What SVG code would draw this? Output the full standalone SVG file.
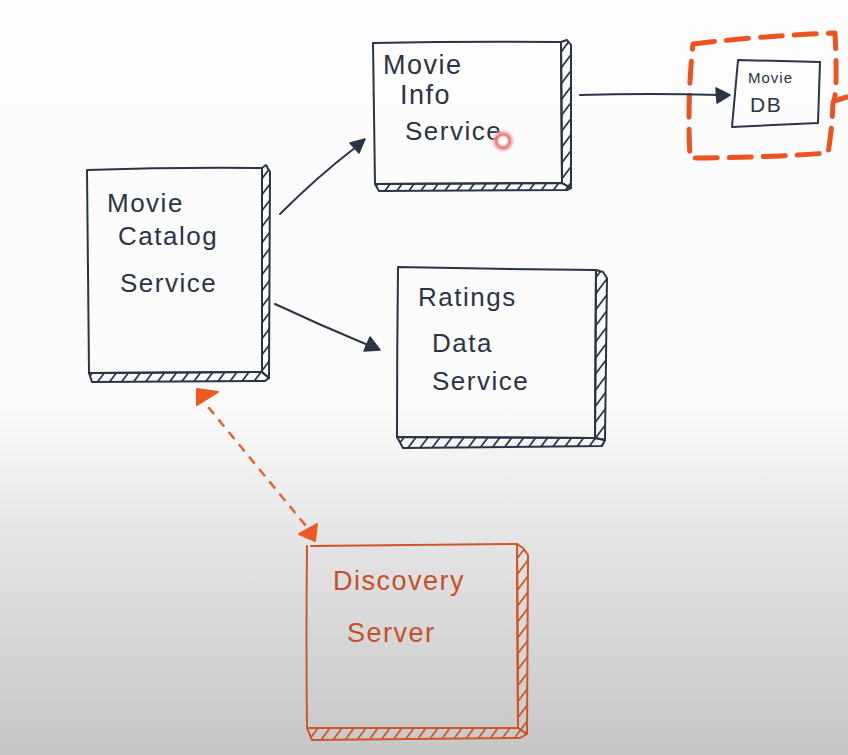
<svg xmlns="http://www.w3.org/2000/svg" width="848" height="755" viewBox="0 0 848 755">
  <defs>
    <linearGradient id="board" x1="0" y1="0" x2="0" y2="1">
      <stop offset="0" stop-color="#fdfdfd"/>
      <stop offset="0.54" stop-color="#fbfbfb"/>
      <stop offset="0.7" stop-color="#e6e6e6"/>
      <stop offset="1" stop-color="#c6c6c6"/>
    </linearGradient>
    <!-- seamless diagonal hatching: each stroke runs corner to corner of the tile -->
    <pattern id="hatch-ink" patternUnits="userSpaceOnUse" width="12" height="16">
      <path d="M0,16 L12,0 M-3,4 L3,-4 M9,20 L15,12" stroke="#2b3445" stroke-width="1.7" fill="none"/>
    </pattern>
    <pattern id="hatch-orange" patternUnits="userSpaceOnUse" width="12" height="16">
      <path d="M0,16 L12,0 M-3,4 L3,-4 M9,20 L15,12" stroke="#cf5628" stroke-width="1.7" fill="none"/>
    </pattern>
    <radialGradient id="pointer">
      <stop offset="0" stop-color="#ffffff"/>
      <stop offset="0.3" stop-color="#ffffff"/>
      <stop offset="0.55" stop-color="#ee6f6c"/>
      <stop offset="0.8" stop-color="#f5a7a3" stop-opacity="0.6"/>
      <stop offset="1" stop-color="#fbd7d4" stop-opacity="0"/>
    </radialGradient>
  </defs>
  <style>
    .ink { fill: none; stroke: #2b3445; stroke-width: 2; stroke-linejoin: round; stroke-linecap: round; }
    .inkfill { fill: #2b3445; stroke: #2b3445; stroke-width: 1.5; stroke-linejoin: round; }
    .orange { fill: none; stroke: #cf5628; stroke-width: 2; stroke-linejoin: round; stroke-linecap: round; }
    .hatch-ink { fill: url(#hatch-ink); stroke: #2b3445; stroke-width: 2; stroke-linejoin: round; }
    .hatch-orange { fill: url(#hatch-orange); stroke: #cf5628; stroke-width: 2; stroke-linejoin: round; }
    .label { font-family: "Liberation Sans", "DejaVu Sans", sans-serif; fill: #2b3445; font-size: 26px; letter-spacing: 1.5px; }
    .label-o { font-family: "Liberation Sans", "DejaVu Sans", sans-serif; fill: #c4502a; font-size: 27px; letter-spacing: 1.5px; }
    .dash-box { fill: none; stroke: #ec5320; stroke-width: 5; stroke-dasharray: 22 12; stroke-linecap: round; stroke-linejoin: round; }
    .dash-link { fill: none; stroke: #e0662f; stroke-width: 2.5; stroke-dasharray: 7 9; stroke-linecap: round; }
    .tri-o { fill: #ec5a22; stroke: #ec5a22; stroke-width: 2; stroke-linejoin: round; }
  </style>

  <rect x="0" y="0" width="848" height="755" fill="url(#board)"/>

  <!-- Movie Catalog Service -->
  <g id="movie-catalog-service">
    <path class="hatch-ink" d="M262,168 L266,165 L270,172 L269,378 L262,372 Z"/>
    <path class="hatch-ink" d="M89,373 L262,372 L269,378 L265,381 L92,382 Z"/>
    <path class="ink" d="M87,170 Q175,167 262,168 L262,372 L89,373 Q88,270 87,170 Z"/>
    <text class="label" x="107" y="212">Movie</text>
    <text class="label" x="118" y="245">Catalog</text>
    <text class="label" x="120" y="292">Service</text>
  </g>

  <!-- Movie Info Service -->
  <g id="movie-info-service">
    <path class="hatch-ink" d="M561,42 L567,40 L571,45 L571,188 L562,183 Z"/>
    <path class="hatch-ink" d="M375,184 L562,183 L571,188 L567,190 L379,191 Z"/>
    <path class="ink" d="M373,43 Q467,41 561,42 L562,183 L375,184 Q374,114 373,43 Z"/>
    <text class="label" x="383" y="74" style="font-size:27px">Movie</text>
    <text class="label" x="400" y="104" style="font-size:27px">Info</text>
    <text class="label" x="405" y="140">Service</text>
    <circle cx="503" cy="141" r="12" fill="url(#pointer)"/>
  </g>

  <!-- Ratings Data Service -->
  <g id="ratings-data-service">
    <path class="hatch-ink" d="M596,270 L603,272 L607,278 L605,440 L595,438 Z"/>
    <path class="hatch-ink" d="M397,437 L595,438 L605,440 L602,446 L403,448 Z"/>
    <path class="ink" d="M398,267 Q497,269 596,270 L595,438 L397,437 Q397,352 398,267 Z"/>
    <text class="label" x="418" y="306">Ratings</text>
    <text class="label" x="432" y="352">Data</text>
    <text class="label" x="432" y="390">Service</text>
  </g>

  <!-- Movie DB inside a dashed boundary -->
  <g id="movie-db">
    <path class="dash-box" d="M693,44 Q760,36 835,33 Q838,95 833,103 Q832,130 828,153 Q760,158 690,158 Q687,100 693,44 Z"/>
    <path class="dash-box" d="M834,101 L847,97"/>
    <path class="ink" d="M738,60 L820,62 L818,123 L732,127 Z"/>
    <text class="label" x="748" y="83" style="font-size:15px;letter-spacing:1px">Movie</text>
    <text class="label" x="750" y="112" style="font-size:21px">DB</text>
  </g>

  <!-- Discovery Server -->
  <g id="discovery-server">
    <path class="hatch-orange" d="M517,544 L523,548 L528,555 L527,734 L518,728 Z"/>
    <path class="hatch-orange" d="M307,728 L518,728 L527,734 L520,738 L312,740 Z"/>
    <path class="orange" d="M311,546 Q414,545 517,544 L518,728 L307,728 Q306,637 307,546"/>
    <text class="label-o" x="333" y="590">Discovery</text>
    <text class="label-o" x="347" y="642">Server</text>
  </g>

  <!-- Connectors -->
  <g id="connectors">
    <path class="ink" d="M280,214 Q318,176 356,147"/>
    <path class="inkfill" d="M365,139 L350,143 L359,153 Z"/>

    <path class="ink" d="M275,304 Q322,326 368,345"/>
    <path class="inkfill" d="M380,350 L370,337 L364,351 Z"/>

    <path class="ink" d="M580,95 Q650,93 720,95"/>
    <path class="inkfill" d="M730,95 L716,88 L717,103 Z"/>

    <path class="dash-link" d="M209,408 L306,526"/>
    <path class="tri-o" d="M197,389 L218,392 L197,405 Z"/>
    <path class="tri-o" d="M317,524 L315,541 L299,534 Z"/>
  </g>
</svg>
